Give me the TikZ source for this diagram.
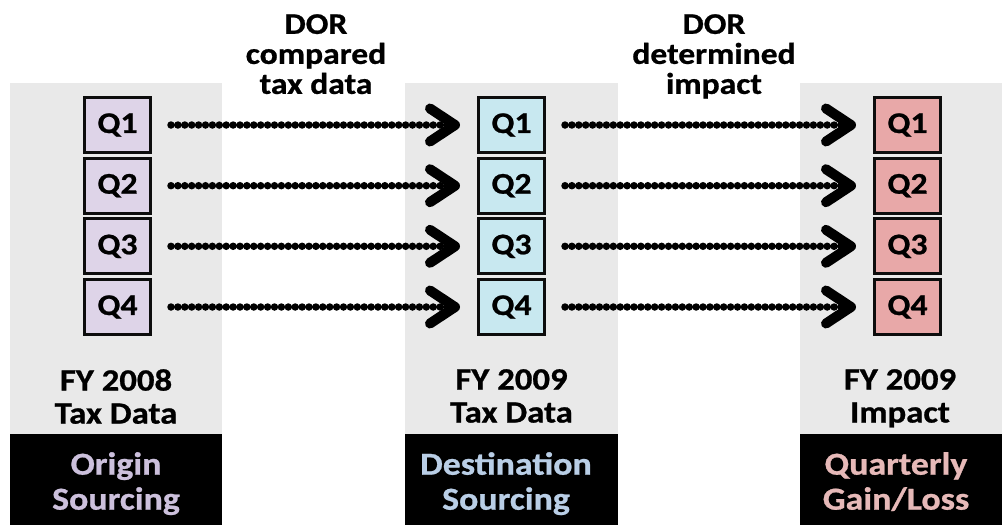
\documentclass[tikz,border=0pt]{standalone}
\usepackage{fontspec}
\setmainfont{Carlito}[FakeStretch=1.12, BoldFeatures={FakeBold=0.8}]
\usetikzlibrary{arrows.meta}
\definecolor{panelgray}{RGB}{233,233,233}
\definecolor{lavfill}{RGB}{222,212,232}
\definecolor{bluefill}{RGB}{200,232,240}
\definecolor{pinkfill}{RGB}{232,168,168}
\definecolor{lavtext}{RGB}{204,192,220}
\definecolor{bluetext}{RGB}{185,206,230}
\definecolor{pinktext}{RGB}{230,185,184}
\tikzset{
  panel/.style={fill=panelgray, draw=none},
  footer/.style={fill=black, draw=none},
  qbox/.style={draw=black!95, line width=3pt, minimum width=66pt, minimum height=55pt,
    inner sep=0pt, font=\bfseries\fontsize{30}{32}\selectfont},
  caption/.style={align=center, inner sep=0pt, anchor=north,
    font=\bfseries\fontsize{31}{33}\selectfont},
  tag/.style={align=center, inner sep=0pt, anchor=north,
    font=\bfseries\fontsize{32}{35}\selectfont},
  steplabel/.style={align=center, inner sep=0pt, anchor=north,
    font=\bfseries\fontsize{30}{30}\selectfont},
  flow/.style={line width=7.5pt, line cap=round, dash pattern=on 0pt off 6.9pt,
    shorten <=19pt, shorten >=17pt,
    -{Straight Barb[length=25pt, width=33pt, line width=10pt, round]}},
}
\begin{document}
\begin{tikzpicture}[x=1pt, y=-1pt]
  \useasboundingbox (0,0) rectangle (1002,525);
  % three column panels with black footers
  \fill[panel] (10,83) rectangle (222,434);
  \fill[panel] (405,83) rectangle (618,434);
  \fill[panel] (800,83) rectangle (1002,434);
  \fill[footer] (10,434) rectangle (222,525);
  \fill[footer] (405,434) rectangle (618,525);
  \fill[footer] (800,434) rectangle (1002,525);

  % quarter boxes
  \foreach \i/\y in {1/125, 2/185.7, 3/246.3, 4/307} {
    \node[qbox, fill=lavfill]  (o\i) at (117.5,\y) {Q\i};
    \node[qbox, fill=bluefill] (d\i) at (511.5,\y) {Q\i};
    \node[qbox, fill=pinkfill] (g\i) at (907.5,\y) {Q\i};
  }

  % dotted flows between the columns
  \foreach \i in {1,...,4} {
    \draw[flow] (o\i) -- (d\i);
    \draw[flow] (d\i) -- (g\i);
  }

  % step labels
  \node[steplabel] (s1) at (316,14) {DOR\\compared\\tax data};
  \node[steplabel] (s2) at (714,14) {DOR\\determined\\impact};

  % column captions
  \node[caption] (c1) at (116,369) {FY 2008\\Tax Data};
  \node[caption] (c2) at (511.5,369) {FY 2009\\Tax Data};
  \node[caption] (c3) at (900,369) {FY 2009\\Impact};

  % footer tags
  \node[tag, text=lavtext]  (t1) at (116,452) {Origin\\Sourcing};
  \node[tag, text=bluetext] (t2) at (506,452) {Destination\\Sourcing};
  \node[tag, text=pinktext] (t3) at (896,452) {Quarterly\\Gain/Loss};
\end{tikzpicture}
\end{document}
